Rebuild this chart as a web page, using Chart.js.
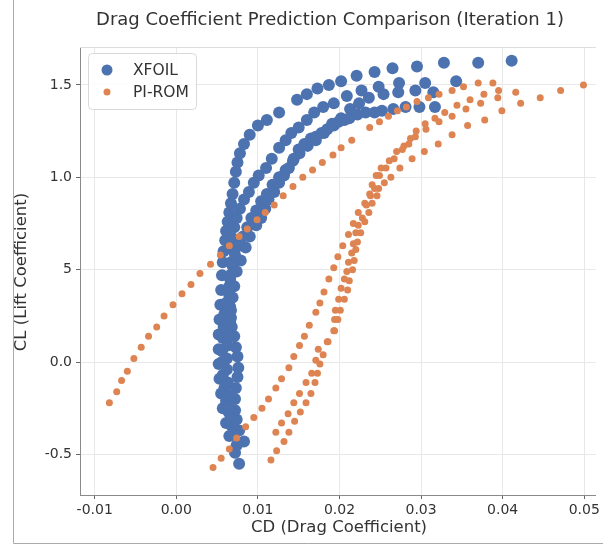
<!DOCTYPE html>
<html>
<head>
<meta charset="utf-8">
<script src="https://cdn.jsdelivr.net/npm/chart.js@4.4.1/dist/chart.umd.min.js"></script>
<style>
  html, body { margin: 0; padding: 0; background: #fff; overflow: hidden; }
  #wrap { position: relative; width: 603px; height: 544px; }
</style>
</head>
<body>
<div id="wrap"><canvas id="chart" width="603" height="544"></canvas></div>
<script>
// ---- data ----
var TITLE = "Drag Coefficient Prediction Comparison (Iteration 1)";
var X_LABEL = "CD (Drag Coefficient)";
var Y_LABEL = "CL (Lift Coefficient)";
var SERIES = ["XFOIL", "PI-ROM"];

var xTickValues = [-0.01, 0, 0.01, 0.02, 0.03, 0.04, 0.05];
var xTickLabels = ["-0.01", "0.00", "0.01", "0.02", "0.03", "0.04", "0.05"];
var yTickValues = [-0.5, 0, 0.5, 1.0, 1.5];
var yTickLabels = ["-0.5", "0.0", "5", "1.0", "1.5"];

// XFOIL polars
var xfoilCd1 = [0.0077,0.0072,0.0065,0.0061,0.0057,0.0055,0.0053,0.0052,0.0052,0.0052,0.0053,0.0054,0.0055,0.0056,0.0057,0.0058,0.0060,0.0061,0.0063,0.0065,0.0067,0.0069,0.0071,0.0073,0.0075,0.0078,0.0083,0.0090,0.0100,0.0111,0.0126,0.0148,0.0160,0.0173,0.0187,0.0202,0.0221,0.0243,0.0265,0.0295,0.0328,0.0370,0.0411];
var xfoilCl1 = [-0.55,-0.49,-0.40,-0.33,-0.25,-0.17,-0.09,-0.01,0.07,0.15,0.23,0.31,0.39,0.47,0.54,0.60,0.66,0.71,0.76,0.81,0.86,0.91,0.97,1.03,1.08,1.13,1.18,1.23,1.28,1.31,1.35,1.42,1.45,1.48,1.50,1.52,1.55,1.57,1.59,1.60,1.62,1.62,1.63];
var xfoilCd2 = [0.0083,0.0077,0.0074,0.0072,0.0072,0.0073,0.0075,0.0076,0.0075,0.0073,0.0071,0.0068,0.0067,0.0066,0.0065,0.0065,0.0066,0.0067,0.0068,0.0069,0.0071,0.0074,0.0078,0.0083,0.0089,0.0095,0.0101,0.0110,0.0117,0.0126,0.0134,0.0141,0.0150,0.0160,0.0169,0.0180,0.0193,0.0209,0.0227,0.0248,0.0273,0.0305,0.0343];
var xfoilCl2 = [-0.43,-0.37,-0.31,-0.26,-0.20,-0.14,-0.08,-0.03,0.03,0.08,0.14,0.19,0.24,0.30,0.36,0.41,0.47,0.54,0.61,0.67,0.73,0.78,0.83,0.88,0.92,0.97,1.01,1.05,1.10,1.16,1.20,1.24,1.27,1.31,1.35,1.38,1.40,1.44,1.47,1.49,1.51,1.51,1.52];
var xfoilCd3 = [0.0067,0.0064,0.0061,0.0059,0.0057,0.0056,0.0056,0.0057,0.0058,0.0059,0.0061,0.0063,0.0066,0.0069,0.0072,0.0077,0.0082,0.0087,0.0092,0.0098,0.0104,0.0111,0.0118,0.0126,0.0134,0.0143,0.0151,0.0161,0.0171,0.0181,0.0191,0.0202,0.0213,0.0224,0.0236,0.0254,0.0272,0.0293,0.0315];
var xfoilCl3 = [-0.34,-0.27,-0.21,-0.14,-0.07,0.00,0.06,0.13,0.19,0.26,0.32,0.39,0.45,0.52,0.58,0.63,0.68,0.73,0.78,0.82,0.87,0.91,0.96,1.00,1.04,1.09,1.13,1.17,1.20,1.24,1.29,1.32,1.37,1.40,1.43,1.45,1.46,1.47,1.46];
var xfoilCd4 = [0.0074,0.0070,0.0067,0.0065,0.0064,0.0063,0.0062,0.0062,0.0063,0.0064,0.0066,0.0067,0.0069,0.0071,0.0074,0.0079,0.0085,0.0090,0.0098,0.0104,0.0109,0.0113,0.0120,0.0126,0.0132,0.0138,0.0144,0.0150,0.0157,0.0165,0.0171,0.0178,0.0185,0.0193,0.0199,0.0206,0.0212,0.0222,0.0232,0.0243,0.0252,0.0266,0.0281,0.0298,0.0317];
var xfoilCl4 = [-0.45,-0.38,-0.31,-0.25,-0.18,-0.11,-0.04,0.02,0.09,0.15,0.22,0.28,0.35,0.41,0.49,0.55,0.62,0.68,0.74,0.78,0.83,0.88,0.92,0.97,1.01,1.05,1.10,1.15,1.18,1.21,1.22,1.24,1.26,1.28,1.30,1.31,1.32,1.34,1.35,1.35,1.36,1.37,1.38,1.38,1.38];

// PI-ROM predictions
var romCd1 = [-0.0082,-0.0073,-0.0067,-0.0060,-0.0052,-0.0043,-0.0034,-0.0024,-0.0015,-0.0004,0.0007,0.0018,0.0029,0.0042,0.0054,0.0065,0.0077,0.0087,0.0099,0.0109,0.0120,0.0131,0.0143,0.0155,0.0167,0.0179,0.0192,0.0202,0.0215,0.0237,0.0249,0.0260,0.0271,0.0282,0.0295,0.0309,0.0322,0.0338,0.0352,0.0370,0.0388];
var romCl1 = [-0.22,-0.16,-0.10,-0.05,0.02,0.08,0.14,0.19,0.25,0.31,0.37,0.42,0.48,0.53,0.58,0.63,0.68,0.72,0.77,0.81,0.85,0.90,0.95,1.00,1.04,1.08,1.12,1.16,1.20,1.27,1.30,1.33,1.36,1.38,1.41,1.43,1.45,1.47,1.49,1.51,1.51];
var romCd2 = [0.0045,0.0055,0.0065,0.0074,0.0085,0.0095,0.0105,0.0113,0.0122,0.0129,0.0138,0.0144,0.0151,0.0157,0.0163,0.0171,0.0176,0.0181,0.0187,0.0193,0.0198,0.0204,0.0211,0.0217,0.0223,0.0231,0.0237,0.0240,0.0245,0.0251,0.0261,0.0270,0.0279,0.0287,0.0294,0.0305,0.0317,0.0329,0.0344,0.0360,0.0377,0.0395];
var romCl2 = [-0.57,-0.52,-0.47,-0.41,-0.35,-0.30,-0.25,-0.20,-0.14,-0.09,-0.03,0.03,0.09,0.14,0.20,0.27,0.32,0.38,0.45,0.51,0.57,0.63,0.69,0.75,0.81,0.86,0.91,0.96,1.01,1.05,1.09,1.14,1.17,1.21,1.25,1.29,1.32,1.35,1.39,1.42,1.45,1.47];
var romCd3 = [0.0116,0.0123,0.0132,0.0138,0.0145,0.0152,0.0159,0.0165,0.0170,0.0173,0.0176,0.0180,0.0185,0.0193,0.0194,0.0195,0.0199,0.0202,0.0206,0.0209,0.0211,0.0215,0.0217,0.0220,0.0223,0.0228,0.0233,0.0238,0.0243,0.0249,0.0257,0.0267,0.0277,0.0285,0.0293,0.0306,0.0322,0.0338,0.0355,0.0373,0.0394,0.0416];
var romCl3 = [-0.53,-0.48,-0.43,-0.38,-0.32,-0.27,-0.22,-0.17,-0.11,-0.06,-0.01,0.04,0.11,0.17,0.23,0.28,0.34,0.40,0.45,0.49,0.54,0.59,0.64,0.70,0.74,0.78,0.85,0.90,0.94,1.01,1.05,1.10,1.15,1.18,1.22,1.26,1.30,1.33,1.37,1.40,1.43,1.46];
var romCd4 = [0.0122,0.0129,0.0137,0.0144,0.0151,0.0159,0.0166,0.0171,0.0174,0.0186,0.0194,0.0198,0.0201,0.0206,0.0210,0.0212,0.0216,0.0218,0.0220,0.0222,0.0226,0.0231,0.0236,0.0240,0.0246,0.0248,0.0255,0.0263,0.0274,0.0289,0.0304,0.0321,0.0338,0.0357,0.0378,0.0399,0.0422,0.0446,0.0471,0.0499];
var romCl4 = [-0.38,-0.33,-0.28,-0.22,-0.17,-0.11,-0.06,0.01,0.07,0.11,0.17,0.23,0.28,0.34,0.39,0.44,0.50,0.55,0.61,0.65,0.70,0.76,0.81,0.86,0.90,0.94,0.97,1.00,1.05,1.10,1.14,1.18,1.23,1.28,1.31,1.36,1.40,1.43,1.47,1.50];

var xfoilRuns = [[xfoilCd1, xfoilCl1], [xfoilCd2, xfoilCl2], [xfoilCd3, xfoilCl3], [xfoilCd4, xfoilCl4]];
var romRuns = [[romCd1, romCl1], [romCd2, romCl2], [romCd3, romCl3], [romCd4, romCl4]];

var BLUE = "#4c72b0";
var ORANGE = "#dd8452";
var FONT = "'DejaVu Sans', 'Liberation Sans', sans-serif";
var TEXT = "#333333";

function toPoints(runs){
    var pts = [];
    runs.forEach(function(run){
        for (var i = 0; i < run[0].length; i++) pts.push({x: run[0][i], y: run[1][i]});
    });
    return pts;
}

// titles, legend box and frame, drawn on the same canvas
var decorations = {
    id: "decorations",
    afterDatasetsDraw: function(chart){
        var ctx = chart.ctx, a = chart.chartArea;
        ctx.save();
        // light top spine
        ctx.strokeStyle = "#dddddd";
        ctx.lineWidth = 1;
        ctx.beginPath();
        ctx.moveTo(a.left, a.top + 0.5);
        ctx.lineTo(a.right, a.top + 0.5);
        ctx.stroke();

        // legend
        var lx = a.left + 8, ly = a.top + 6, lw = 108, lh = 56;
        ctx.fillStyle = "rgba(255,255,255,0.85)";
        ctx.strokeStyle = "#d9d9d9";
        ctx.beginPath();
        ctx.roundRect(lx + 0.5, ly + 0.5, lw, lh, 4);
        ctx.fill();
        ctx.stroke();
        var rows = [[SERIES[0], BLUE, 5.5, 17], [SERIES[1], ORANGE, 3.5, 39]];
        ctx.font = "15.5px " + FONT;
        ctx.textBaseline = "middle";
        ctx.textAlign = "left";
        rows.forEach(function(r){
            ctx.fillStyle = r[1];
            ctx.beginPath();
            ctx.arc(lx + 19, ly + r[3], r[2], 0, Math.PI * 2);
            ctx.fill();
            ctx.fillStyle = TEXT;
            ctx.fillText(r[0], lx + 45, ly + r[3] + 1);
        });
        ctx.restore();
    },
    afterDraw: function(chart){
        var ctx = chart.ctx;
        ctx.save();
        ctx.fillStyle = TEXT;
        ctx.textAlign = "center";
        ctx.textBaseline = "middle";
        ctx.font = "18px " + FONT;
        ctx.fillText(TITLE, 330, 20);
        ctx.font = "16.5px " + FONT;
        ctx.fillText(X_LABEL, 339, 528);
        ctx.translate(22, 272);
        ctx.rotate(-Math.PI / 2);
        ctx.fillText(Y_LABEL, 0, 0);
        ctx.restore();

        // outer frame of the figure
        ctx.save();
        ctx.strokeStyle = "#aaaaaa";
        ctx.lineWidth = 1;
        ctx.beginPath();
        ctx.moveTo(13.5, 0);
        ctx.lineTo(13.5, 543.5);
        ctx.lineTo(603, 543.5);
        ctx.stroke();
        ctx.restore();
    }
};

function draw_chart(){
    new Chart("chart", {
        type: "scatter",
        data: {
            datasets: [{
                label: SERIES[0],
                data: toPoints(xfoilRuns),
                backgroundColor: BLUE,
                borderWidth: 0,
                pointRadius: 6,
                pointHoverRadius: 6,
                order: 1
            }, {
                label: SERIES[1],
                data: toPoints(romRuns),
                backgroundColor: ORANGE,
                borderWidth: 0,
                pointRadius: 3.5,
                pointHoverRadius: 3.5,
                order: 0
            }]
        },
        options: {
            responsive: false,
            animation: false,
            devicePixelRatio: 1,
            layout: {padding: {top: 47, right: 5, bottom: 0, left: 0}},
            plugins: {
                legend: {display: false},
                title: {display: false},
                tooltip: {enabled: false}
            },
            scales: {
                x: {
                    type: "linear",
                    min: -0.0118,
                    max: 0.0514,
                    afterBuildTicks: function(scale){
                        scale.ticks = xTickValues.map(function(v){ return {value: v}; });
                    },
                    afterFit: function(scale){ scale.height = 49; },
                    ticks: {
                        color: TEXT,
                        font: {family: FONT, size: 14},
                        padding: 3,
                        maxRotation: 0,
                        callback: function(value){ return xTickLabels[xTickValues.indexOf(value)]; }
                    },
                    grid: {color: "#e8e8e8", tickColor: "#666666", tickLength: 4},
                    border: {color: "#8a8a8a"}
                },
                y: {
                    type: "linear",
                    min: -0.719,
                    max: 1.705,
                    afterBuildTicks: function(scale){
                        scale.ticks = yTickValues.map(function(v){ return {value: v}; });
                    },
                    afterFit: function(scale){ scale.width = 80; },
                    ticks: {
                        color: TEXT,
                        font: {family: FONT, size: 14},
                        padding: 4,
                        callback: function(value){ return yTickLabels[yTickValues.indexOf(value)]; }
                    },
                    grid: {color: "#e8e8e8", tickColor: "#666666", tickLength: 4},
                    border: {color: "#8a8a8a"}
                }
            }
        },
        plugins: [decorations]
    });
}

draw_chart();
</script>
</body>
</html>
